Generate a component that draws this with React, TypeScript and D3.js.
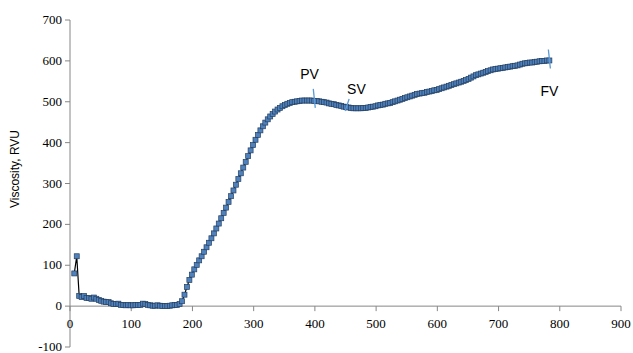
import React from "react";
import * as d3 from "d3";

const startTime = 7;
const stepTime = 4;
const viscosity = [
  80, 122, 25, 22, 25, 20, 20, 18, 21, 18, 15, 13, 11, 10, 10, 7, 5, 5, 6, 3,
  3, 2, 3, 2, 2, 3, 3, 3, 6, 5, 3, 2, 1, 1, 2, 1, 0, 0, 0, 1,
  2, 3, 3, 5, 12, 28, 47, 64, 77, 90, 101, 112, 122, 133, 144, 155, 166, 178, 190, 202,
  215, 228, 241, 255, 269, 283, 297, 311, 325, 339, 353, 367, 381, 394, 407, 419, 430, 440, 449, 457,
  464, 470, 476, 481, 485, 489, 492, 495, 497, 499, 500, 501, 502, 503, 503, 503, 503, 503, 502, 502,
  501, 500, 499, 498, 496, 495, 494, 492, 491, 490, 488, 487, 486, 485, 484, 484, 484, 484, 485, 485,
  486, 487, 488, 489, 491, 492, 493, 495, 496, 497, 499, 501, 503, 505, 507, 509, 511, 513, 515, 517,
  519, 520, 521, 522, 524, 525, 526, 528, 529, 531, 533, 535, 537, 539, 541, 543, 545, 547, 549, 551,
  553, 556, 559, 562, 565, 567, 569, 571, 573, 575, 577, 579, 580, 581, 582, 583, 584, 585, 586, 587,
  588, 589, 591, 593, 594, 595, 596, 596, 597, 598, 599, 600, 600, 601, 601,
];
const xTicks = [0, 100, 200, 300, 400, 500, 600, 700, 800, 900];
const yTicks = [-100, 0, 100, 200, 300, 400, 500, 600, 700];
const markerNames = ["PV", "SV", "FV"];
const markerTimes = [399, 451, 783];

const data = viscosity.map((v, i) => ({ t: startTime + i * stepTime, v }));

const serif = "'Liberation Serif', 'Times New Roman', 'DejaVu Serif', serif";
const sans = "'Liberation Sans', Arial, sans-serif";

export default function App() {
  const x = d3.scaleLinear().domain([0, 900]).range([70, 621]);
  const y = d3.scaleLinear().domain([-100, 700]).range([347, 20]);
  const line = d3
    .line<{ t: number; v: number }>()
    .x((d) => x(d.t))
    .y((d) => y(d.v));
  const axisColor = "#868686";
  const valAt = (t: number) => {
    const i = Math.round((t - startTime) / stepTime);
    return viscosity[Math.max(0, Math.min(viscosity.length - 1, i))];
  };
  const annot = [
    { dx1: -1, dy1: -12, dx2: 1, dy2: 7, lx: -14, ly: -22 },
    { dx1: 3, dy1: -8, dx2: -1, dy2: 4, lx: 1, ly: -13 },
    { dx1: -1, dy1: -11, dx2: 1, dy2: 8, lx: 0, ly: 36 },
  ];
  return (
    <svg
      width={633}
      height={353}
      style={{ position: "absolute", left: 0, top: 0, background: "#fff" }}
    >
      <rect x={0} y={0} width={633} height={353} fill="#fff" />
      <line x1={x(0)} x2={x(0)} y1={y(-100)} y2={y(700)} stroke={axisColor} />
      <line x1={x(0)} x2={x(900)} y1={y(0)} y2={y(0)} stroke={axisColor} />
      {yTicks.map((t) => (
        <g key={"y" + t}>
          <line x1={x(0) - 5} x2={x(0)} y1={y(t)} y2={y(t)} stroke={axisColor} />
          <text
            x={x(0) - 8}
            y={y(t) + 4}
            textAnchor="end"
            style={{ fontFamily: serif, fontSize: "13px" }}
            fill="#000"
          >
            {t}
          </text>
        </g>
      ))}
      {xTicks.map((t) => (
        <g key={"x" + t}>
          <line x1={x(t)} x2={x(t)} y1={y(0)} y2={y(0) + 5} stroke={axisColor} />
          <text
            x={x(t)}
            y={y(0) + 22}
            textAnchor="middle"
            style={{ fontFamily: serif, fontSize: "13px" }}
            fill="#000"
          >
            {t}
          </text>
        </g>
      ))}
      <text
        transform={`translate(19,169) rotate(-90)`}
        textAnchor="middle"
        style={{ fontFamily: sans, fontSize: "12px" }}
        fill="#000"
      >
        Viscosity, RVU
      </text>
      <path d={line(data) || ""} fill="none" stroke="#000" strokeWidth={1.2} />
      {data.map((d, i) => (
        <rect
          key={i}
          x={x(d.t) - 2.5}
          y={y(d.v) - 2.5}
          width={5}
          height={5}
          fill="#4F81BD"
          stroke="#243F60"
          strokeWidth={0.7}
        />
      ))}
      {markerNames.map((name, i) => {
        const px = x(markerTimes[i]);
        const py = y(valAt(markerTimes[i]));
        const a = annot[i];
        return (
          <g key={name}>
            <line
              x1={px + a.dx1}
              y1={py + a.dy1}
              x2={px + a.dx2}
              y2={py + a.dy2}
              stroke="#5B9BD5"
              strokeWidth={1.3}
            />
            <text
              x={px + a.lx}
              y={py + a.ly}
              style={{ fontFamily: sans, fontSize: "14px" }}
              fill="#000"
              textAnchor={i === 2 ? "middle" : "start"}
            >
              {name}
            </text>
          </g>
        );
      })}
    </svg>
  );
}
